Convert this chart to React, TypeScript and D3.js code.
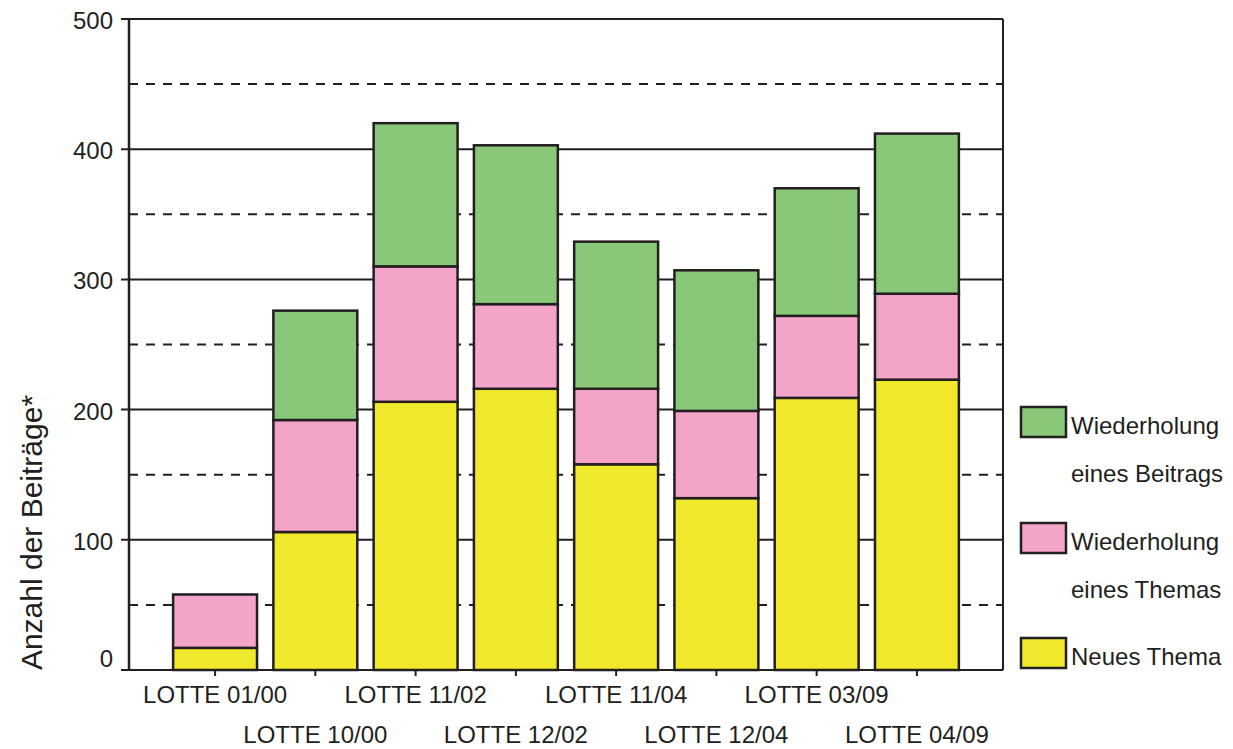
import React from 'react';
import * as d3 from 'd3';

const categories = [
  'LOTTE 01/00', 'LOTTE 10/00', 'LOTTE 11/02', 'LOTTE 12/02',
  'LOTTE 11/04', 'LOTTE 12/04', 'LOTTE 03/09', 'LOTTE 04/09',
];
const neuesThema = [17, 106, 206, 216, 158, 132, 209, 223];
const wiederholungThema = [41, 86, 104, 65, 58, 67, 63, 66];
const wiederholungBeitrag = [0, 84, 110, 122, 113, 108, 98, 123];

const seriesKeys = ['neu', 'thema', 'beitrag'];
const seriesColors = { neu: '#f0e82a', thema: '#f4a4c8', beitrag: '#88c878' };
const legendItems = [
  { key: 'beitrag', lines: ['Wiederholung', 'eines Beitrags'] },
  { key: 'thema', lines: ['Wiederholung', 'eines Themas'] },
  { key: 'neu', lines: ['Neues Thema'] },
];
const majorTicks = [0, 100, 200, 300, 400, 500];
const minorTicks = [50, 150, 250, 350, 450];

const ink = '#231f20';
const font = 'Liberation Sans, Arial, sans-serif';

export default function App() {
  const left = 129, right = 1003, top = 19, bottom = 670;

  const rows = categories.map((c, i) => ({
    cat: c,
    neu: neuesThema[i],
    thema: wiederholungThema[i],
    beitrag: wiederholungBeitrag[i],
  }));
  const stacked = d3.stack<any>().keys(seriesKeys)(rows);

  const x = d3.scaleBand().domain(categories).range([left, right])
    .paddingInner(0.163).paddingOuter(0.44);
  const y = d3.scaleLinear().domain([0, 500]).range([bottom, top]);

  return (
    <svg width={1233} height={749} style={{ position: 'absolute', left: 0, top: 0 }}
      fontFamily={font}>
      {/* grid */}
      {minorTicks.map((t) => (
        <line key={`m${t}`} x1={left} x2={right} y1={y(t)} y2={y(t)}
          stroke={ink} strokeWidth={2} strokeDasharray="9 8" />
      ))}
      {majorTicks.map((t) => (
        <g key={`t${t}`}>
          <line x1={left - 8} x2={right} y1={y(t)} y2={y(t)} stroke={ink} strokeWidth={2} />
          {/* the zero label sits a bit above the axis line */}
          <text x={113} y={y(t) - (t === 0 ? 13 : 0)} dy="0.42em" textAnchor="end"
            fontSize={24} fill={ink}>{t}</text>
        </g>
      ))}
      <line x1={left} x2={left} y1={top} y2={bottom} stroke={ink} strokeWidth={2.5} />
      <line x1={right} x2={right} y1={top} y2={bottom} stroke={ink} strokeWidth={2} />

      {/* bars */}
      {stacked.map((s) => (
        <g key={s.key}>
          {s.map((d, i) => (d[1] - d[0] > 0 ? (
            <rect key={i} x={x(categories[i])} width={x.bandwidth()}
              y={y(d[1])} height={y(d[0]) - y(d[1])}
              fill={seriesColors[s.key]} stroke={ink} strokeWidth={2.5} />
          ) : null))}
        </g>
      ))}

      {/* x axis */}
      {categories.map((c, i) => {
        const cx = x(c) + x.bandwidth() / 2;
        return (
          <g key={c}>
            <line x1={cx} x2={cx} y1={bottom} y2={bottom + 6} stroke={ink} strokeWidth={2} />
            <text x={cx} y={i % 2 === 0 ? 703 : 743} textAnchor="middle" fontSize={24} fill={ink}>{c}</text>
          </g>
        );
      })}

      {/* y title */}
      <text transform={`translate(42,${(395 + 670) / 2}) rotate(-90)`} textAnchor="middle"
        fontSize={30} fill={ink}>Anzahl der Beiträge*</text>

      {/* legend */}
      {legendItems.map((it, k) => {
        const by = [407, 523, 638][k];
        return (
          <g key={it.key}>
            <rect x={1021} y={by} width={45} height={30} fill={seriesColors[it.key]}
              stroke={ink} strokeWidth={2.5} />
            {it.lines.map((l, j) => (
              <text key={j} x={1071} y={by + 27 + j * 48} fontSize={24} fill={ink}>{l}</text>
            ))}
          </g>
        );
      })}
    </svg>
  );
}
